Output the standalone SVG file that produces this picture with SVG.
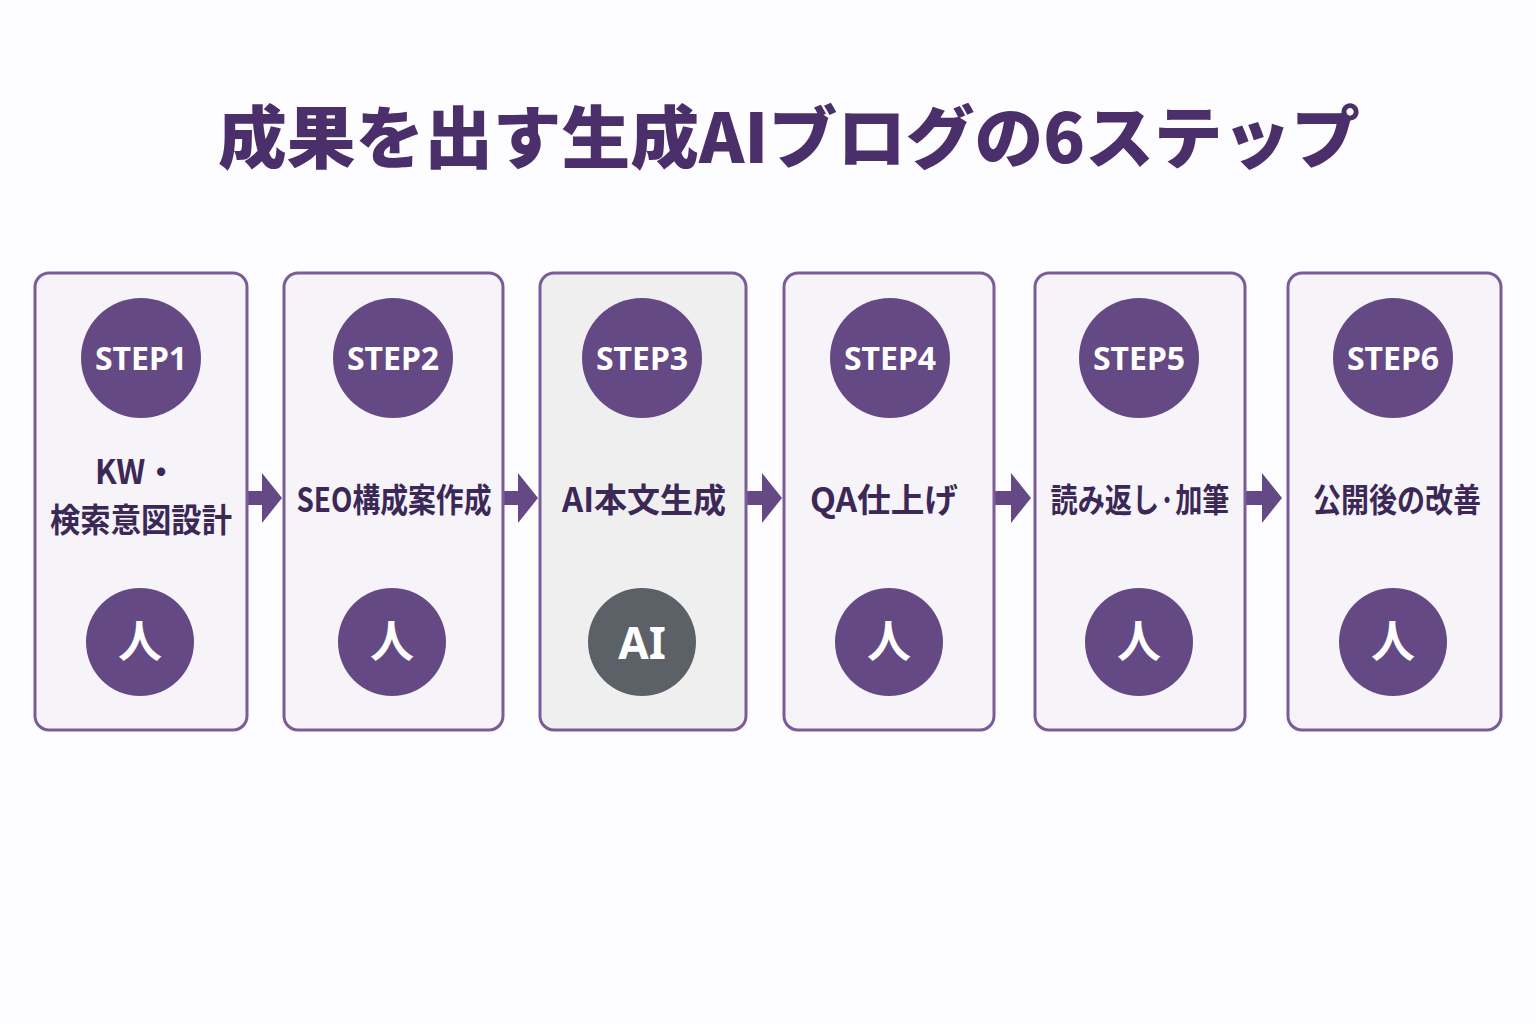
<svg xmlns="http://www.w3.org/2000/svg" width="1536" height="1024" viewBox="0 0 1536 1024">
<style>
.box{fill:#f6f3f9;stroke:#7a5c98;stroke-width:3}
.boxai{fill:#efeff0;stroke:#7a5c98;stroke-width:3}
.top{fill:#654985}
.bot{fill:#654985}
.botai{fill:#5b6166}
.st{font-family:"Noto Sans","Noto Sans CJK JP",sans-serif;font-weight:700;font-size:32px;fill:#fff;text-anchor:middle}
.lb{font-family:"Noto Sans CJK JP",sans-serif;font-weight:700;font-size:33px;fill:#3b2856;text-anchor:middle}
.ic{font-family:"Noto Sans CJK JP",sans-serif;font-weight:700;font-size:44px;fill:#fff;text-anchor:middle}
.title{font-family:"Noto Sans CJK JP",sans-serif;font-weight:900;font-size:68px;fill:#4a2f6b;text-anchor:middle}
.arr{fill:#654985}
</style>
<rect width="1536" height="1024" fill="#fdfcfe"/>
<text class="title" x="789" y="163" textLength="1142" lengthAdjust="spacingAndGlyphs">成果を出す生成AIブログの6ステップ</text>
<g id="connectors">
<path class="arr" d="M248 491h14v-18l20 25l-20 25v-18h-14z"/>
<path class="arr" d="M504 491h14v-18l20 25l-20 25v-18h-14z"/>
<path class="arr" d="M747 491h15v-18l20 25l-20 25v-18h-15z"/>
<path class="arr" d="M995 491h16v-18l20 25l-20 25v-18h-16z"/>
<path class="arr" d="M1246 491h16v-18l20 25l-20 25v-18h-16z"/>
</g>
<g id="step1">
<rect class="box" x="35" y="273" width="212" height="457" rx="14"/>
<circle class="top" cx="141" cy="358" r="60"/>
<text class="st" x="141" y="370">STEP1</text>
<text class="lb" x="136" y="484" textLength="82" lengthAdjust="spacingAndGlyphs">KW・</text>
<text class="lb" x="141" y="532" textLength="182" lengthAdjust="spacingAndGlyphs">検索意図設計</text>
<circle class="bot" cx="140" cy="642" r="54"/>
<text class="ic" x="140" y="658">人</text>
</g>
<g id="step2">
<rect class="box" x="284" y="273" width="219" height="457" rx="14"/>
<circle class="top" cx="393" cy="358" r="60"/>
<text class="st" x="393" y="370">STEP2</text>
<text class="lb" x="394" y="512" textLength="195" lengthAdjust="spacingAndGlyphs">SEO構成案作成</text>
<circle class="bot" cx="392" cy="642" r="54"/>
<text class="ic" x="392" y="658">人</text>
</g>
<g id="step3">
<rect class="boxai" x="540" y="273" width="206" height="457" rx="14"/>
<circle class="top" cx="642" cy="358" r="60"/>
<text class="st" x="642" y="370">STEP3</text>
<text class="lb" x="644" y="512" textLength="164" lengthAdjust="spacingAndGlyphs">AI本文生成</text>
<circle class="botai" cx="642" cy="642" r="54"/>
<text class="ic" x="642" y="659" style="font-family:'Noto Sans',sans-serif">AI</text>
</g>
<g id="step4">
<rect class="box" x="784" y="273" width="210" height="457" rx="14"/>
<circle class="top" cx="890" cy="358" r="60"/>
<text class="st" x="890" y="370">STEP4</text>
<text class="lb" x="884" y="512" textLength="148" lengthAdjust="spacingAndGlyphs">QA仕上げ</text>
<circle class="bot" cx="889" cy="642" r="54"/>
<text class="ic" x="889" y="658">人</text>
</g>
<g id="step5">
<rect class="box" x="1035" y="273" width="210" height="457" rx="14"/>
<circle class="top" cx="1139" cy="358" r="60"/>
<text class="st" x="1139" y="370">STEP5</text>
<text class="lb" x="1140" y="512" textLength="179" lengthAdjust="spacingAndGlyphs">読み返し·加筆</text>
<circle class="bot" cx="1139" cy="642" r="54"/>
<text class="ic" x="1139" y="658">人</text>
</g>
<g id="step6">
<rect class="box" x="1288" y="273" width="213" height="457" rx="14"/>
<circle class="top" cx="1393" cy="358" r="60"/>
<text class="st" x="1393" y="370">STEP6</text>
<text class="lb" x="1397" y="512" textLength="168" lengthAdjust="spacingAndGlyphs">公開後の改善</text>
<circle class="bot" cx="1393" cy="642" r="54"/>
<text class="ic" x="1393" y="658">人</text>
</g>
</svg>
